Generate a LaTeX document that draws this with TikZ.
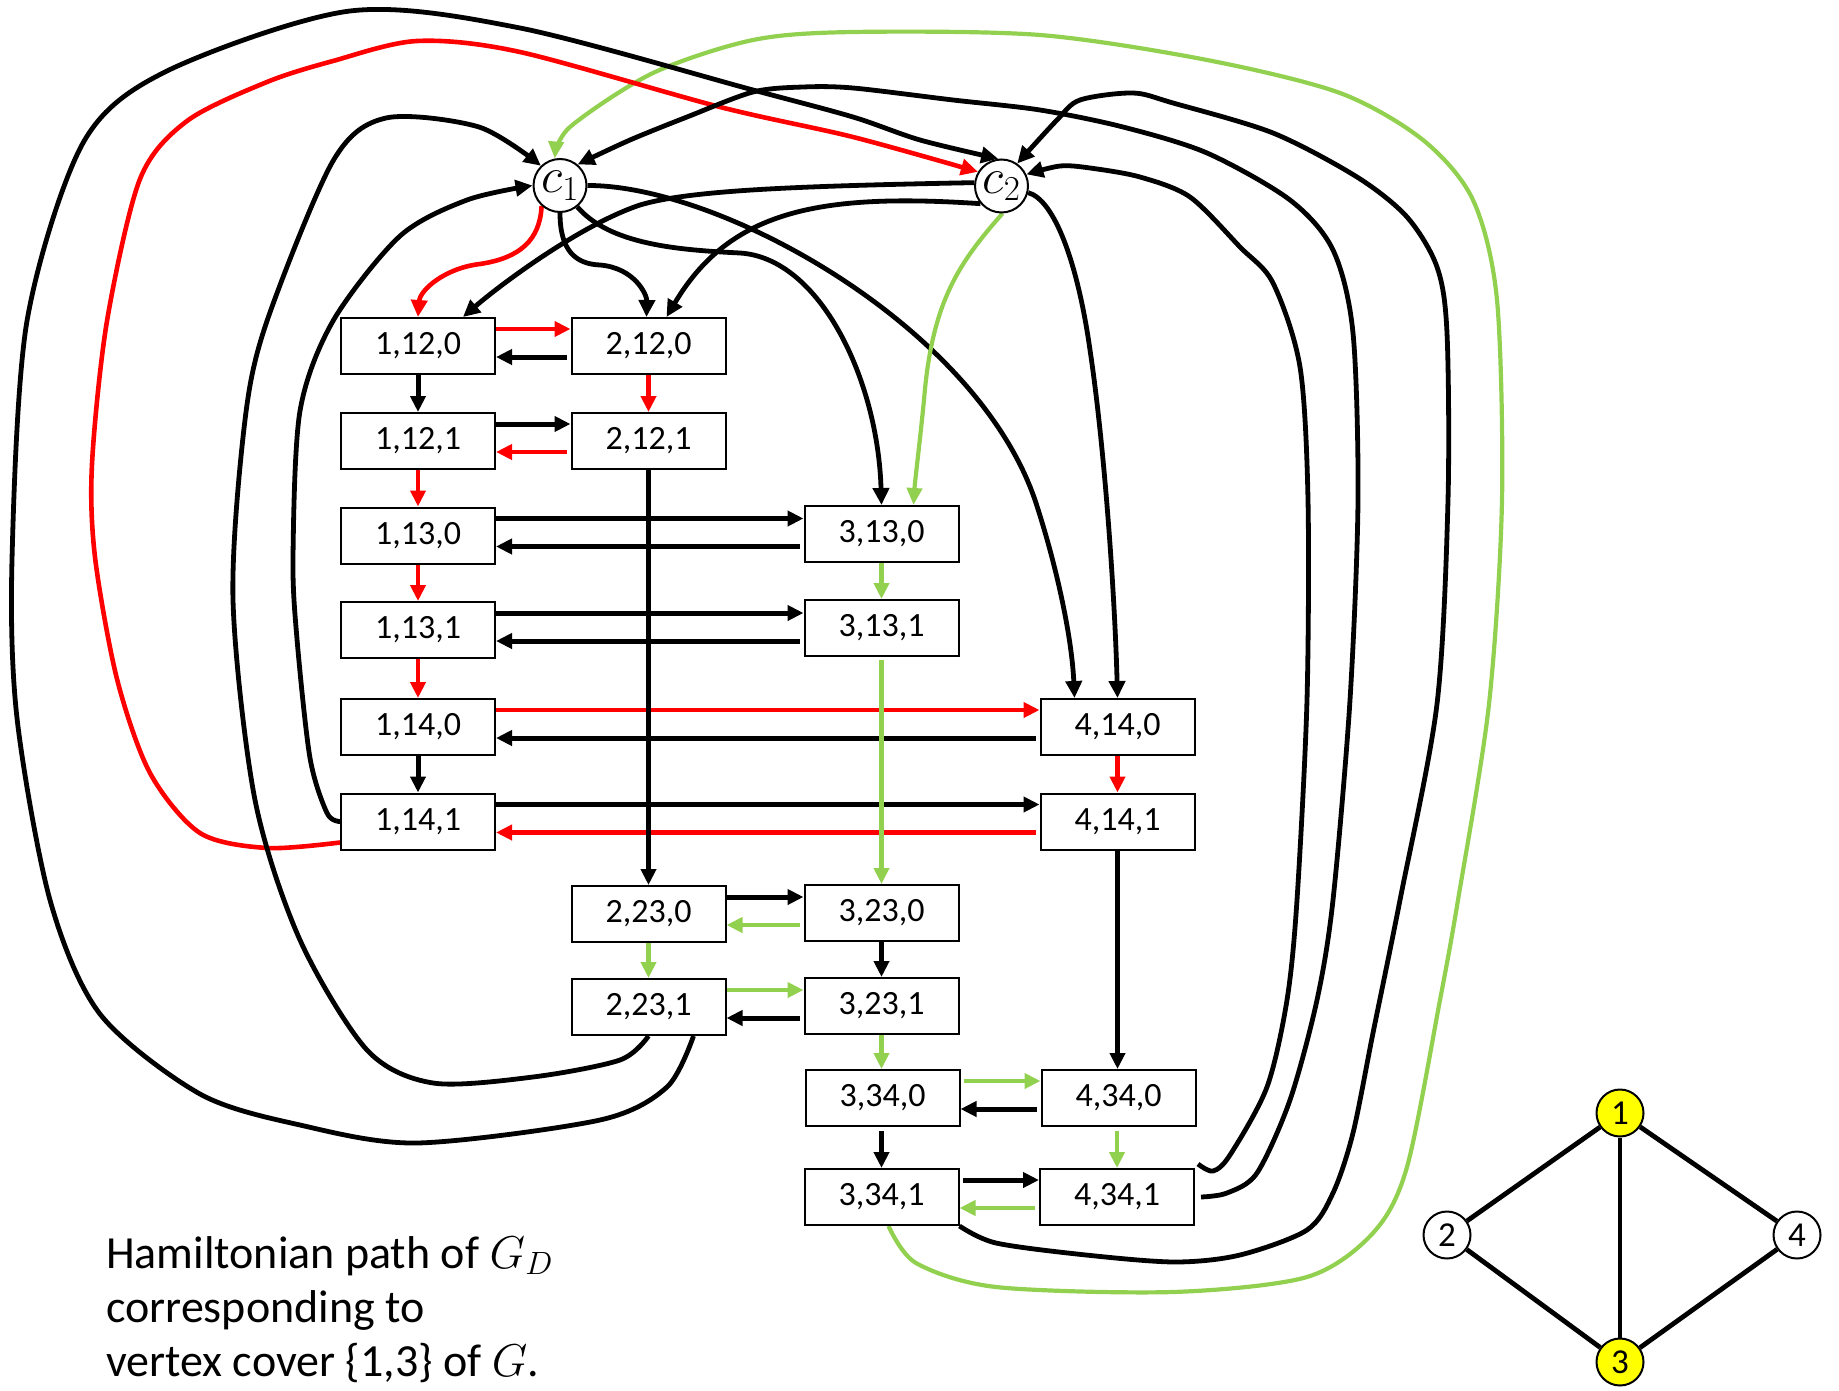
\RequirePackage{fix-cm}
\documentclass[tikz,border=0pt]{standalone}
\usepackage{fontspec}
\setmainfont{Carlito}
\usetikzlibrary{arrows.meta,calc}
\pgfdeclarelayer{background}
\pgfsetlayers{background,main}
\definecolor{myred}{RGB}{255,0,0}
\definecolor{mygreen}{RGB}{146,208,80}
\definecolor{myyellow}{RGB}{255,255,0}
\tikzset{
  box/.style={draw, line width=2pt, fill=white, minimum width=154pt, minimum height=56pt, inner sep=0pt, font=\fontsize{34}{40}\selectfont},
  cnode/.style={circle, draw, line width=2pt, fill=white, minimum size=53pt, inner sep=0pt, font=\fontsize{50}{50}\selectfont},
  gnode/.style={circle, draw, line width=2pt, fill=white, minimum size=47pt, inner sep=0pt, font=\fontsize{35}{40}\selectfont},
  arrowtip/.style={-{Triangle[length=16pt,width=15pt]}},
  blk/.style={arrowtip, line width=5pt, black},
  rd/.style={arrowtip, line width=4.6pt, myred},
  gr/.style={arrowtip, line width=4.2pt, mygreen},
  cblk/.style={-{Triangle[length=17pt,width=16pt]}, line width=4.8pt, black},
  crd/.style={-{Triangle[length=17pt,width=16pt]}, line width=4.6pt, myred},
  cgr/.style={-{Triangle[length=17pt,width=15pt]}, line width=4.2pt, mygreen},
  txt/.style={anchor=base west, inner sep=0pt, font=\fontsize{46}{55}\selectfont},
}
\begin{document}
\begin{tikzpicture}[x=1pt,y=-1pt]
\useasboundingbox (0,0) rectangle (1839,1391);

% special nodes
\node[cnode] (c1) at (560,185.5) {$c_1$};
\node[cnode] (c2) at (1001.5,186) {$c_2$};

% boxes
\node[box] (b1120) at (418,346) {1,12,0};
\node[box] (b2120) at (648.5,346) {2,12,0};
\node[box] (b1121) at (418,441) {1,12,1};
\node[box] (b2121) at (648.5,441) {2,12,1};
\node[box] (b1130) at (418,535.5) {1,13,0};
\node[box] (b3130) at (881.5,534) {3,13,0};
\node[box] (b1131) at (418,630) {1,13,1};
\node[box] (b3131) at (881.5,628) {3,13,1};
\node[box] (b1140) at (418,727) {1,14,0};
\node[box] (b4140) at (1117.5,727) {4,14,0};
\node[box] (b1141) at (418,821.5) {1,14,1};
\node[box] (b4141) at (1117.5,821.5) {4,14,1};
\node[box] (b2230) at (648.5,914) {2,23,0};
\node[box] (b3230) at (881.5,913) {3,23,0};
\node[box] (b2231) at (648.5,1007) {2,23,1};
\node[box] (b3231) at (881.5,1006) {3,23,1};
\node[box] (b3340) at (882.5,1098) {3,34,0};
\node[box] (b4340) at (1118.5,1098) {4,34,0};
\node[box] (b3341) at (881.5,1197) {3,34,1};
\node[box] (b4341) at (1117,1197) {4,34,1};

\begin{pgfonlayer}{background}
% c1 / c2 outgoing
\draw[crd] (c1.228) .. controls (540,240) and (520,258) .. (480,264) .. controls (445,268) and (420,290) .. (b1120.north);
\draw[cblk] (c1.270) .. controls (560,250) and (575,264) .. (600,265) .. controls (635,268) and (647,295) .. ([xshift=-2pt]b2120.north);
\draw[cblk] (c2.173) .. controls (800,186) and (690,190) .. (640,205) .. controls (580,225) and (500,285) .. ([xshift=45pt]b1120.north);
\draw[cblk] (c2.220) .. controls (820,193) and (730,210) .. ([xshift=18pt]b2120.north);
\draw[cblk] (c1.309) .. controls (610,245) and (680,250) .. (740,253) .. controls (820,258) and (878,380) .. (b3130.north);
\draw[cblk] (c1.0) .. controls (720,185) and (975,325) .. (1035,500) .. controls (1058,570) and (1072,640) .. ([xshift=-43pt]b4140.north);
\draw[cblk] (c2.346) .. controls (1055,200) and (1078,265) .. (1090,350) .. controls (1105,450) and (1115,600) .. (b4140.north);
\draw[cgr] (c2.272) .. controls (960,262) and (932,300) .. (924,400) .. controls (919,450) and (915,480) .. ([xshift=32pt]b3130.north);

% long return curves
\draw[cgr] plot[smooth, tension=0.5] coordinates {([xshift=7pt]b3341.south) (916,1263) (996,1287) (1173,1292) (1307,1277) (1373,1233) (1407,1167) (1440,1000) (1458,900) (1489,704) (1502,500) (1497,300) (1473,200) (1423,140) (1340,93) (1207,60) (1040,35) (853,32) (753,40) (653,73) (570,127) (c1.101)};
\draw[crd] plot[smooth, tension=0.5] coordinates {([yshift=-21pt]b1141.west) (267,848) (200,833) (150,773) (117,679) (95,557) (92,464) (107,321) (140,179) (187,121) (267,82) (333,61) (417,41) (520,52) (720,107) (853,137) (c2.149)};
\draw[cblk] plot[smooth, tension=0.5] coordinates {([xshift=45pt]b2231.south) (667,1087) (600,1120) (417,1143) (300,1125) (200,1094) (100,1014) (50,900) (17,718) (12,560) (27,321) (83,143) (167,71) (350,11) (520,28) (753,90) (853,117) (920,140) (c2.97)};
\draw[cblk] plot[smooth, tension=0.5] coordinates {(b2231.south) (620,1060) (533,1077) (433,1083) (367,1050) (300,940) (255,800) (233,600) (245,420) (267,321) (333,161) (386,118) (479,127) (c1.134)};
\draw[cblk] plot[smooth, tension=0.5] coordinates {(b1141.west) (327,813) (310,758) (297,639) (293,557) (300,411) (333,321) (400,236) (467,200) (c1.180)};
\draw[cblk] plot[smooth, tension=0.5] coordinates {([xshift=3pt,yshift=4pt]b4341.north east) (1213,1171) (1230,1155) (1267,1087) (1287,1000) (1297,900) (1307,700) (1308,500) (1300,367) (1273,283) (1240,247) (1190,197) (1140,177) (1090,168) (1060,166) (c2.25)};
\draw[cblk] plot[smooth, tension=0.5] coordinates {([xshift=6pt]b4341.east) (1227,1193) (1257,1173) (1290,1100) (1317,1000) (1333,900) (1350,700) (1358,500) (1353,333) (1333,250) (1290,200) (1207,153) (1123,127) (1040,110) (953,100) (853,88) (803,87) (753,92) (687,117) (630,140) (c1.50)};
\draw[cblk] plot[smooth, tension=0.5] coordinates {(b3341.south east) (996,1243) (1086,1255) (1175,1262) (1240,1255) (1307,1230) (1333,1193) (1353,1133) (1373,1033) (1400,900) (1437,704) (1448,500) (1447,333) (1437,267) (1407,217) (1357,177) (1273,133) (1173,103) (1133,93) (1080,100) (1057,120) (c2.55)};
\end{pgfonlayer}

% grid: horizontal pairs
\draw[rd] ([yshift=17pt]b1120.east) -- ([yshift=17pt]b2120.west);
\draw[blk, shorten <=4pt] ([yshift=-11pt]b2120.west) -- ([yshift=-11pt]b1120.east);
\draw[blk] ([yshift=17pt]b1121.east) -- ([yshift=17pt]b2121.west);
\draw[rd, shorten <=4pt] ([yshift=-11pt]b2121.west) -- ([yshift=-11pt]b1121.east);
\draw[blk] ([yshift=17pt]b1130.east) -- ([yshift=17pt]b1130.east -| b3130.west);
\draw[blk, shorten <=4pt] ([yshift=-11pt]b1130.east -| b3130.west) -- ([yshift=-11pt]b1130.east);
\draw[blk] ([yshift=17pt]b1131.east) -- ([yshift=17pt]b1131.east -| b3131.west);
\draw[blk, shorten <=4pt] ([yshift=-11pt]b1131.east -| b3131.west) -- ([yshift=-11pt]b1131.east);
\draw[rd] ([yshift=17pt]b1140.east) -- ([yshift=17pt]b1140.east -| b4140.west);
\draw[blk, shorten <=4pt] ([yshift=-11pt]b1140.east -| b4140.west) -- ([yshift=-11pt]b1140.east);
\draw[blk] ([yshift=17pt]b1141.east) -- ([yshift=17pt]b1141.east -| b4141.west);
\draw[rd, shorten <=4pt] ([yshift=-11pt]b1141.east -| b4141.west) -- ([yshift=-11pt]b1141.east);
\draw[blk] ([yshift=17pt]b2230.east) -- ([yshift=17pt]b2230.east -| b3230.west);
\draw[gr, shorten <=4pt] ([yshift=-11pt]b2230.east -| b3230.west) -- ([yshift=-11pt]b2230.east);
\draw[gr] ([yshift=17pt]b2231.east) -- ([yshift=17pt]b2231.east -| b3231.west);
\draw[blk, shorten <=4pt] ([yshift=-11pt]b2231.east -| b3231.west) -- ([yshift=-11pt]b2231.east);
\draw[gr, shorten <=3pt] ([yshift=17pt]b3340.east) -- ([yshift=17pt]b3340.east -| b4340.west);
\draw[blk, shorten <=4pt] ([yshift=-11pt]b3340.east -| b4340.west) -- ([yshift=-11pt]b3340.east);
\draw[blk, shorten <=3pt] ([yshift=17pt]b3341.east) -- ([yshift=17pt]b3341.east -| b4341.west);
\draw[gr, shorten <=4pt] ([yshift=-11pt]b3341.east -| b4341.west) -- ([yshift=-11pt]b3341.east);

% grid: vertical
\draw[blk] (b1120.south) -- (b1121.north);
\draw[rd] (b1121.south) -- (b1130.north);
\draw[rd] (b1130.south) -- (b1131.north);
\draw[rd] (b1131.south) -- (b1140.north);
\draw[blk] (b1140.south) -- (b1141.north);
\draw[rd] (b2120.south) -- (b2121.north);
\draw[blk] (b2121.south) -- (b2230.north);
\draw[gr] (b2230.south) -- (b2231.north);
\draw[gr] (b3130.south) -- (b3131.north);
\draw[gr, shorten <=3pt] (b3131.south) -- (b3131.south |- b3230.north);
\draw[blk] (b3230.south) -- (b3230.south |- b3231.north);
\draw[gr] (b3231.south) -- (b3231.south |- b3340.north);
\draw[blk, shorten <=4pt] (b3340.south -| b3341.north) -- (b3341.north);
\draw[rd] (b4140.south) -- (b4140.south |- b4141.north);
\draw[blk] (b4141.south) -- (b4141.south |- b4340.north);
\draw[gr, shorten <=4pt] (b4340.south -| b4341.north) -- (b4341.north);

% caption
\node[txt] (t1) at (106,1268) {Hamiltonian path of $G_D$};
\node[txt] (t2) at (106,1322) {corresponding to};
\node[txt] (t3) at (106,1376) {vertex cover \{1,3\} of $G$.};

% small graph G
\node[gnode, fill=myyellow] (g1) at (1620,1113) {1};
\node[gnode] (g2) at (1447,1235) {2};
\node[gnode] (g4) at (1797,1235) {4};
\node[gnode, fill=myyellow] (g3) at (1620,1362) {3};
\draw[line width=4.8pt] (g1) -- (g2) (g1) -- (g4) (g2) -- (g3) (g4) -- (g3);
\draw[line width=3.6pt] (g1) -- (g3);
\end{tikzpicture}
\end{document}
